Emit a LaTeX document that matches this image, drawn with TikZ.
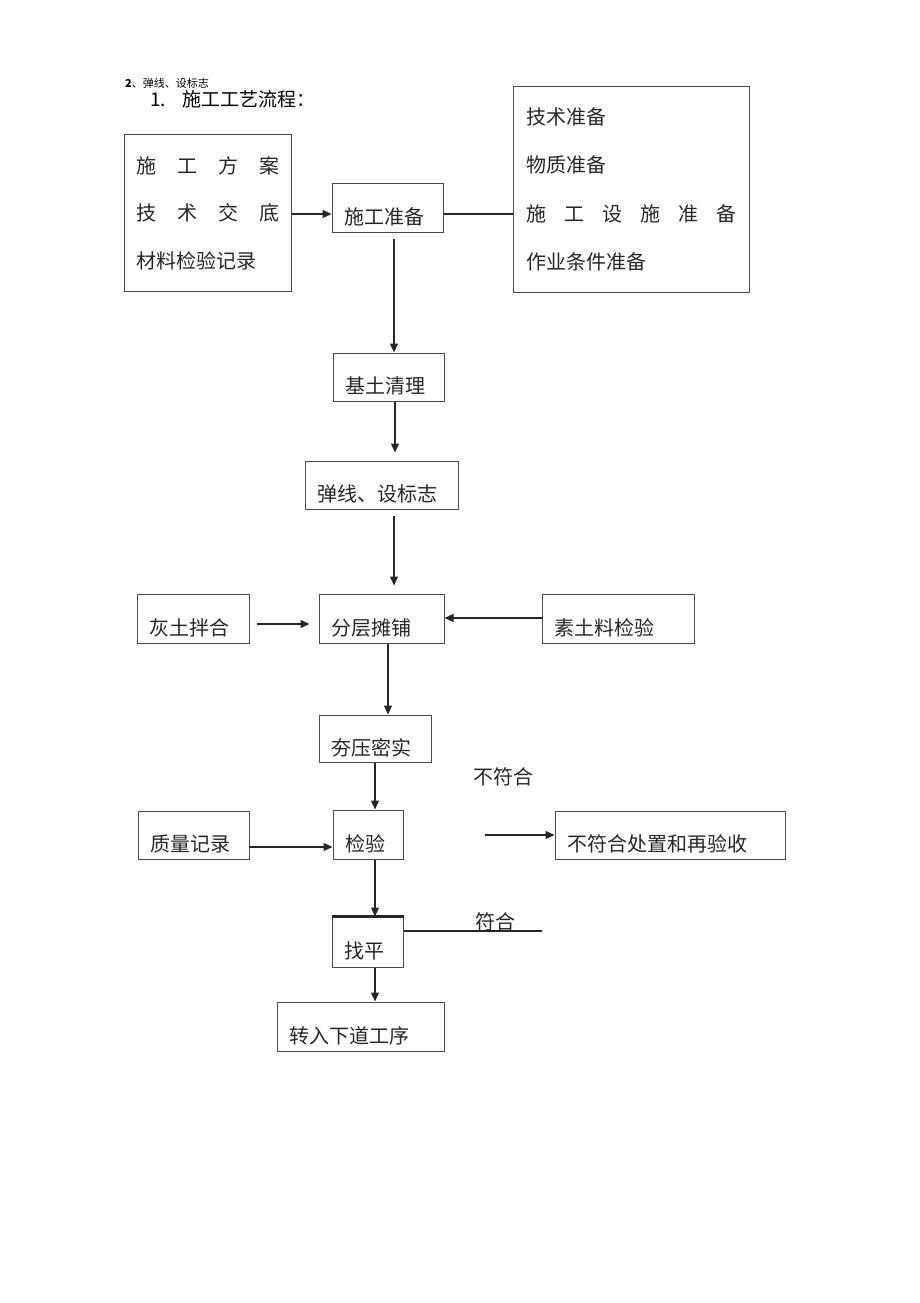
\documentclass[tikz,border=0pt]{standalone}
\usepackage{fontspec}
\setmainfont{Noto Sans CJK SC}
\usetikzlibrary{arrows.meta,calc}

\begin{document}
\begin{tikzpicture}[x=1pt,y=-1pt]
	\tikzstyle{box}=[draw=black!70,line width=1pt,rectangle,inner xsep=12.5pt,inner ysep=0pt,minimum height=49pt,align=left,text height=33pt,text depth=0pt,font=\fontsize{20pt}{24pt}\selectfont,text=black!85]
	\tikzstyle{list}=[draw=black!70,line width=1pt,rectangle,inner xsep=12pt,inner ysep=0pt,align=left,text=black!85]
	\tikzstyle{arr}=[draw=black!85,line width=1.2pt,-{Triangle[length=9pt,width=8pt]}]
	\tikzstyle{link}=[draw=black!85,line width=1.2pt]
	\tikzstyle{tag}=[inner sep=0pt,font=\fontsize{20pt}{24pt}\selectfont,text=black!85]
	\useasboundingbox (0,0) rectangle (920,1303);

	\node[anchor=west,inner sep=0pt,font=\fontsize{11pt}{13pt}\selectfont] (sub) at (125,83) {\textbf{2}、弹线、设标志};
	\node[anchor=west,inner sep=0pt,font=\fontsize{19pt}{22pt}\selectfont] (title) at (150,99) {\makebox[32pt][l]{1.}施工工艺流程：};

	\node[list,text width=143pt,minimum height=156pt,font=\fontsize{20pt}{47.5pt}\selectfont] (plan) at (207.5,213)
		{施\hfill 工\hfill 方\hfill 案\\ 技\hfill 术\hfill 交\hfill 底\\ 材料检验记录};
	\node[box,text width=86pt] (prep) at (387.5,207.5) {施工准备};
	\node[list,inner xsep=13pt,text width=210pt,minimum height=205pt,font=\fontsize{20pt}{48.3pt}\selectfont] (ready) at (631,189.5)
		{技术准备\\ 物质准备\\ 施\hfill 工\hfill 设\hfill 施\hfill 准\hfill 备\\ 作业条件准备};

	\node[box,text width=86pt,minimum height=48pt] (clean) at (388.5,377) {基土清理};
	\node[box,text width=128pt,minimum height=48pt] (mark) at (381.5,485) {弹线、设标志};

	\node[box,text width=87pt] (mix) at (193,618.5) {灰土拌合};
	\node[box,text width=100pt] (spread) at (381.5,618.5) {分层摊铺};
	\node[box,text width=127pt] (soil) at (618,618.5) {素土料检验};

	\node[box,text width=87pt,minimum height=47pt] (tamp) at (375,738.5) {夯压密实};
	\node[box,text width=86pt,minimum height=48pt] (record) at (193.5,835) {质量记录};
	\node[box,text width=45pt] (check) at (368,834.5) {检验};
	\node[box,text width=205pt,minimum height=48pt] (fix) at (670,835) {不符合处置和再验收};

	\node[box,text width=46pt,minimum height=50pt] (level) at (367.5,942) {找平};
	\node[box,text width=142pt] (next) at (360.5,1026.5) {转入下道工序};

	\node[tag] (nolbl) at (503.5,777) {不符合};
	\node[tag] (oklbl) at (495,922) {符合};
	\coordinate (nofrom) at (485,835);
	\coordinate (okend) at (542,931);

	\draw[arr] (plan.east |- 0,214) -- (prep.west |- 0,214);
	\draw[link] (prep.east |- 0,214) -- (ready.west |- 0,214);
	\draw[arr] ([yshift=-6pt]prep.south -| 394,0) -- (clean.north -| 394,0);
	\draw[arr,shorten >=8pt] (clean.south -| 395,0) -- (mark.north -| 395,0);
	\draw[arr,shorten >=8pt] ([yshift=-6pt]mark.south -| 394,0) -- (spread.north -| 394,0);
	\draw[arr,shorten <=7pt,shorten >=9pt] (mix.east |- 0,624) -- (spread.west |- 0,624);
	\draw[arr] (soil.west |- 0,618) -- (spread.east |- 0,618);
	\draw[arr] (spread.south -| 388,0) -- (tamp.north -| 388,0);
	\draw[arr] (tamp.south -| 375,0) -- (check.north -| 375,0);
	\draw[arr] (record.east |- 0,847) -- (check.west |- 0,847);
	\draw[arr] (nofrom) -- (fix.west |- nofrom);
	\draw[arr] (check.south -| 375,0) -- (level.north -| 375,0);
	\draw[line width=2.2pt,black!85] (level.north west) -- (level.north east);
	\draw[link] (level.east |- okend) -- (okend);
	\draw[arr] (level.south -| 375,0) -- (next.north -| 375,0);
\end{tikzpicture}
\end{document}
